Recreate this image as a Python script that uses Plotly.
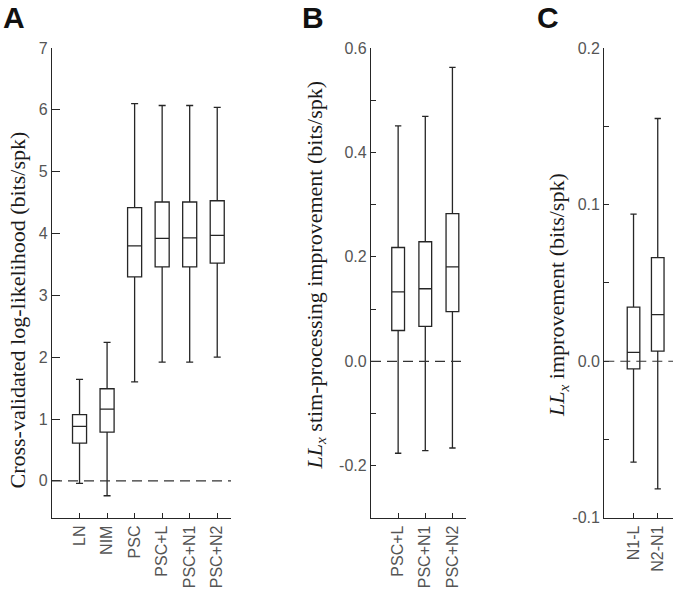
import plotly.graph_objects as go

W, H = 674, 589

# ---------------- data ----------------
a_cats = ["LN", "NIM", "PSC", "PSC+L", "PSC+N1", "PSC+N2"]
a_low = [-0.04, -0.24, 1.60, 1.92, 1.92, 2.00]
a_q1 = [0.61, 0.79, 3.30, 3.46, 3.46, 3.52]
a_med = [0.88, 1.16, 3.80, 3.92, 3.93, 3.97]
a_q3 = [1.07, 1.49, 4.42, 4.51, 4.51, 4.53]
a_high = [1.64, 2.24, 6.10, 6.07, 6.07, 6.04]
a_ticks = [0, 1, 2, 3, 4, 5, 6, 7]

b_cats = ["PSC+L", "PSC+N1", "PSC+N2"]
b_low = [-0.176, -0.171, -0.166]
b_q1 = [0.059, 0.067, 0.095]
b_med = [0.133, 0.139, 0.181]
b_q3 = [0.218, 0.229, 0.283]
b_high = [0.451, 0.469, 0.563]
b_ticks = [-0.2, 0.0, 0.2, 0.4, 0.6]
b_ticklabels = ["-0.2", "0.0", "0.2", "0.4", "0.6"]
b_minor = [-0.1, 0.1, 0.3, 0.5]

c_cats = ["N1-L", "N2-N1"]
c_low = [-0.0644, -0.0815]
c_q1 = [-0.0049, 0.0064]
c_med = [0.0056, 0.0297]
c_q3 = [0.0346, 0.0661]
c_high = [0.0939, 0.155]
c_ticks = [-0.1, 0.0, 0.1, 0.2]
c_ticklabels = ["-0.1", "0.0", "0.1", "0.2"]
c_minor = [-0.05, 0.05, 0.15]

# ---------------- layout helpers (pixel -> paper coords) ----------------
def px_x(p):
    return p / W

def px_y(p):
    return 1 - p / H

y_dom = [px_y(518), px_y(48)]
LINE = "#262626"
TICKC = "#555555"
TICKFONT = dict(family="Liberation Sans, Arial, sans-serif", size=16, color=TICKC)
TITLEFONT = dict(family="Liberation Serif, Times New Roman, serif", size=22, color="#1a1a1a")

fig = go.Figure()

def add_box(cats, low, q1, med, q3, high, xa, ya, width):
    fig.add_trace(go.Box(
        x=list(range(1, len(cats) + 1)),
        lowerfence=low, q1=q1, median=med, q3=q3, upperfence=high,
        width=width, whiskerwidth=0.5,
        fillcolor="rgba(255,255,255,0)",
        line=dict(color=LINE, width=1.3),
        boxpoints=False, showlegend=False, hoverinfo="skip",
        xaxis=xa, yaxis=ya,
    ))

add_box(a_cats, a_low, a_q1, a_med, a_q3, a_high, "x", "y", 0.51)
add_box(b_cats, b_low, b_q1, b_med, b_q3, b_high, "x2", "y2", 0.47)
add_box(c_cats, c_low, c_q1, c_med, c_q3, c_high, "x3", "y3", 0.52)

common_x = dict(showline=True, linecolor=LINE, linewidth=1.3, showgrid=False,
                zeroline=False, ticks="inside", ticklen=5, tickcolor=LINE,
                tickwidth=1.2, tickangle=-90, tickfont=TICKFONT, automargin=False)
common_y = dict(showline=True, linecolor=LINE, linewidth=1.3, showgrid=False,
                zeroline=False, ticks="inside", tickcolor=LINE, tickwidth=1.2,
                tickfont=TICKFONT, domain=y_dom, automargin=False)

def minor(vals):
    return dict(tickvals=vals, ticks="inside", ticklen=5, tickcolor=LINE,
                tickwidth=1.2, showgrid=False)

fig.update_layout(
    template="none",
    width=W, height=H,
    margin=dict(l=0, r=0, t=0, b=0, pad=0),
    paper_bgcolor="white", plot_bgcolor="white",
    xaxis=dict(common_x, domain=[px_x(52), px_x(231)], range=[0, 6.5],
               tickvals=list(range(1, 7)), ticktext=a_cats, anchor="y"),
    yaxis=dict(common_y, range=[-0.6, 7], tickvals=a_ticks,
               ticktext=[str(t) for t in a_ticks], ticklen=8, anchor="x"),
    xaxis2=dict(common_x, domain=[px_x(371), px_x(466)], range=[0, 3.5],
                tickvals=list(range(1, 4)), ticktext=b_cats, anchor="y2"),
    yaxis2=dict(common_y, range=[-0.3, 0.6], tickvals=b_ticks,
                ticktext=b_ticklabels, ticklen=5, anchor="x2", minor=minor(b_minor)),
    xaxis3=dict(common_x, domain=[px_x(604.3), px_x(673)], range=[-0.207, 2.63],
                tickvals=list(range(1, 3)), ticktext=c_cats, anchor="y3"),
    yaxis3=dict(common_y, range=[-0.1001, 0.2], tickvals=c_ticks,
                ticktext=c_ticklabels, ticklen=5, anchor="x3", minor=minor(c_minor)),
)

# dashed zero lines
for xr, yr in [("x domain", "y"), ("x2 domain", "y2"), ("x3 domain", "y3")]:
    fig.add_shape(type="line", xref=xr, yref=yr, x0=0, x1=1, y0=0, y1=0,
                  line=dict(color="#333333", width=1.2, dash="10px,6px"))

# axis titles
titles = [
    ("Cross-validated log-likelihood (bits/spk)", 17, 310.5),
    ("<i>LL<sub>x</sub></i> stim-processing improvement (bits/spk)", 315, 275.5),
    ("<i>LL<sub>x</sub></i> improvement (bits/spk)", 558, 295),
]
for txt, xp, yp in titles:
    fig.add_annotation(text=txt, x=px_x(xp), y=px_y(yp), xref="paper", yref="paper",
                       showarrow=False, textangle=-90, xanchor="center",
                       yanchor="middle", font=TITLEFONT)

# panel letters
for letter, xp, yp in [("A", 14, 17), ("B", 313, 18), ("C", 547.5, 18)]:
    fig.add_annotation(text="<b>%s</b>" % letter, x=px_x(xp), y=px_y(yp),
                       xref="paper", yref="paper", showarrow=False,
                       xanchor="center", yanchor="middle",
                       font=dict(family="Liberation Sans, Arial, sans-serif",
                                 size=30, color="#111111"))

# remove the browser's default 8px page margin so the figure fills the window
fig.write_html("out.html", config={"displayModeBar": False},
               post_script="document.body.style.margin='0px';")
